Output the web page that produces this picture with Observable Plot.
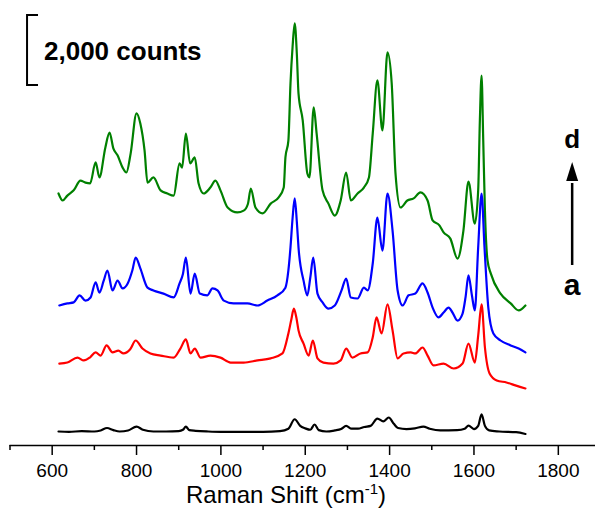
<!DOCTYPE html>
<html><head><meta charset="utf-8">
<script src="https://cdn.jsdelivr.net/npm/d3@7"></script>
<script src="https://cdn.jsdelivr.net/npm/@observablehq/plot@0.6"></script>
<style>
body{margin:0;background:#fff;}
svg{font-family:"Liberation Sans",Arial,sans-serif;}
</style>
</head><body><div id="chart"></div>
<script>
// Raman spectra (wavenumber cm-1, counts), stacked as in the figure
const spectrumA = [[615,400],[640,390],[670,410],[700,400],[715,430],[730,500],[745,440],[760,400],[780,430],[800,540],[815,450],[840,400],[870,400],[900,410],[910,450],[917,540],[925,440],[940,420],[970,400],[1000,390],[1050,390],[1100,390],[1140,410],[1160,480],[1175,750],[1188,560],[1200,490],[1212,450],[1222,600],[1232,440],[1250,400],[1270,430],[1285,470],[1297,560],[1310,480],[1325,480],[1340,530],[1355,560],[1371,770],[1385,690],[1398,800],[1410,620],[1420,500],[1440,470],[1460,490],[1480,540],[1495,480],[1520,430],[1560,440],[1578,480],[1587,570],[1600,470],[1610,560],[1618,890],[1626,560],[1636,430],[1660,400],[1700,380],[1722,330]];
const spectrumB = [[617,2340],[636,2370],[660,2510],[675,2430],[690,2520],[703,2660],[715,2570],[729,2860],[743,2660],[757,2710],[769,2630],[785,2750],[798,3000],[814,2770],[833,2630],[857,2570],[888,2510],[904,2770],[917,3030],[928,2630],[938,2770],[952,2510],[975,2570],[999,2510],[1023,2370],[1054,2370],[1087,2430],[1118,2490],[1146,2630],[1160,3200],[1167,3600],[1173,3910],[1179,3650],[1184,3290],[1196,2910],[1208,2570],[1218,3000],[1229,2490],[1243,2370],[1267,2340],[1284,2430],[1297,2770],[1312,2510],[1331,2630],[1348,2660],[1360,3090],[1369,3660],[1381,3200],[1395,4030],[1407,3290],[1419,2490],[1433,2630],[1450,2660],[1461,2630],[1478,2800],[1490,2570],[1504,2290],[1528,2340],[1552,2200],[1573,2340],[1587,2910],[1602,2370],[1610,3140],[1618,4030],[1626,2800],[1637,2060],[1654,1860],[1677,1800],[1700,1710],[1722,1630]];
const spectrumC = [[617,4000],[636,4060],[651,4090],[665,4290],[679,4140],[691,4230],[703,4660],[712,4370],[722,4700],[731,5000],[743,4430],[755,4710],[767,4490],[779,4630],[790,5000],[798,5370],[809,5060],[826,4510],[840,4430],[864,4340],[888,4230],[902,4630],[910,4900],[917,5370],[928,4340],[938,4910],[950,4340],[968,4290],[980,4490],[992,4430],[1007,4140],[1030,4060],[1063,4060],[1087,4000],[1110,4140],[1134,4290],[1153,4510],[1160,5000],[1165,5660],[1170,6500],[1175,7060],[1180,6400],[1184,5660],[1196,4710],[1205,4290],[1212,4800],[1219,5370],[1229,4340],[1241,4090],[1255,3910],[1270,4000],[1286,4430],[1297,4770],[1308,4230],[1324,4200],[1339,4510],[1348,4430],[1360,5200],[1371,6510],[1383,5570],[1395,7200],[1407,6140],[1419,4430],[1431,4000],[1445,4290],[1461,4340],[1478,4630],[1490,4370],[1502,3940],[1516,3660],[1528,3800],[1540,3940],[1549,3800],[1561,3570],[1573,3770],[1580,4230],[1587,4860],[1595,4300],[1602,3860],[1610,5660],[1618,7200],[1625,5660],[1634,3940],[1646,3200],[1663,3000],[1687,2860],[1706,2770],[1722,2660]];
const spectrumD = [[615,7200],[625,7000],[636,7140],[651,7290],[667,7570],[679,7510],[690,7490],[703,8090],[712,7660],[726,8510],[736,8940],[745,8490],[755,8290],[767,7940],[776,7800],[786,8340],[800,9490],[809,9200],[819,8430],[826,7510],[840,7660],[857,7290],[873,7200],[888,7140],[902,8060],[908,7940],[917,8910],[927,8060],[938,8230],[947,7490],[959,7200],[975,7370],[987,7570],[999,7290],[1016,6800],[1039,6660],[1054,6710],[1064,6900],[1071,7340],[1082,6800],[1099,6630],[1118,6910],[1137,7090],[1149,7370],[1153,8230],[1160,8710],[1165,10340],[1170,11400],[1175,12060],[1180,11200],[1184,10060],[1194,9290],[1205,7770],[1210,7660],[1220,9660],[1227,8910],[1241,7290],[1255,6910],[1270,6570],[1284,7000],[1297,7800],[1308,7000],[1324,7200],[1339,7370],[1351,7660],[1360,8910],[1371,10430],[1383,9000],[1395,11230],[1405,10340],[1414,7770],[1426,6800],[1442,7000],[1457,7060],[1473,7230],[1490,7000],[1502,6430],[1518,6290],[1528,6090],[1544,5910],[1561,5340],[1575,6140],[1587,7540],[1602,6340],[1610,7290],[1614,9290],[1618,10570],[1622,8710],[1626,6710],[1632,5300],[1640,4910],[1663,4340],[1687,4060],[1706,3860],[1722,4000]];

const seriesNames = ["a","b","c","d"];
const seriesColors = ["#000000","#ff0000","#0000ff","#008000"];
const xTicks = [600,800,1000,1200,1400,1600,1800];
const xMinorTicks = [500,700,900,1100,1300,1500,1700,1900];
const xTitle = "Raman Shift (cm";
const xTitleSup = "-1";
const scaleBarCounts = 2000;
const scaleBarLabel = "2,000 counts";
const arrowLabels = ["a","d"];

const spectra = [spectrumA, spectrumB, spectrumC, spectrumD];
const toRows = (arr, name) => arr.map(([x, y]) => ({series: name, x, y}));

// draw order: green, blue, red, black
const drawOrder = [3,2,1,0];
const lineMarks = drawOrder.map(i =>
  Plot.line(toRows(spectra[i], seriesNames[i]), {x: "x", y: "y", stroke: seriesColors[i], strokeWidth: 2.2, strokeLinejoin: "round", curve: "monotone-x"})
);

const plot = Plot.plot({
  width: 595,
  height: 515,
  marginTop: 0,
  marginBottom: 70,
  marginLeft: 9.5,
  marginRight: 0,
  x: {domain: [500, 1900], range: [9.5, 600]},
  y: {domain: [0, 12714], axis: null},
  style: {fontFamily: '"Liberation Sans", Arial, sans-serif', fontSize: "19px", color: "black", background: "white"},
  marks: [
    Plot.ruleY([0], {x1: 500, x2: 1900, stroke: "black", strokeWidth: 1.5}),
    Plot.axisX({ticks: xMinorTicks, tickSize: 5, tickFormat: () => "", strokeWidth: 1.5, label: null}),
    Plot.axisX({ticks: xTicks, tickSize: 10, tickPadding: 8, tickFormat: d => String(d), strokeWidth: 1.5, label: null, fontSize: 19}),
    ...lineMarks
  ]
});
document.getElementById("chart").append(plot);

const sx = plot.scale("x"), sy = plot.scale("y");
const svg = d3.select(plot);

// x axis title with superscript
const t = svg.append("text")
  .attr("x", 286).attr("y", 503)
  .attr("text-anchor", "middle")
  .attr("font-size", 24)
  .attr("fill", "black");
t.append("tspan").text(xTitle);
t.append("tspan").attr("font-size", 15).attr("dy", -9).text(xTitleSup);
t.append("tspan").attr("dy", 9).text(")");

// scale bar bracket (2,000 counts)
const barTop = 12286, barBottom = barTop - scaleBarCounts;
const barX = 541.6, barSerif = 567.6;
const bx = sx.apply(barX), bs = sx.apply(barSerif);
const by1 = sy.apply(barTop), by2 = sy.apply(barBottom);
svg.append("path")
  .attr("d", `M${bs},${by1}H${bx}V${by2}H${bs}`)
  .attr("fill", "none").attr("stroke", "black").attr("stroke-width", 2);
svg.append("text")
  .attr("x", sx.apply(581.8)).attr("y", (by1 + by2) / 2 + 10)
  .attr("text-anchor", "start")
  .attr("font-size", 26).attr("font-weight", "bold").attr("fill", "black")
  .text(scaleBarLabel);

// arrow a -> d
const ax = sx.apply(1834);
const yLow = 265, yHeadBase = 181, yTip = 162;
svg.append("line").attr("x1", ax).attr("x2", ax).attr("y1", yLow).attr("y2", yHeadBase + 2)
  .attr("stroke", "black").attr("stroke-width", 2.5);
svg.append("path").attr("d", `M${ax - 6},${yHeadBase}L${ax + 6},${yHeadBase}L${ax},${yTip}Z`).attr("fill", "black");
svg.append("text").attr("x", ax).attr("y", 148).attr("text-anchor", "middle")
  .attr("font-size", 26).attr("font-weight", "bold").attr("fill", "black").text(arrowLabels[1]);
svg.append("text").attr("x", ax).attr("y", 295).attr("text-anchor", "middle")
  .attr("font-size", 30).attr("font-weight", "bold").attr("fill", "black").text(arrowLabels[0]);
</script>
</body></html>
